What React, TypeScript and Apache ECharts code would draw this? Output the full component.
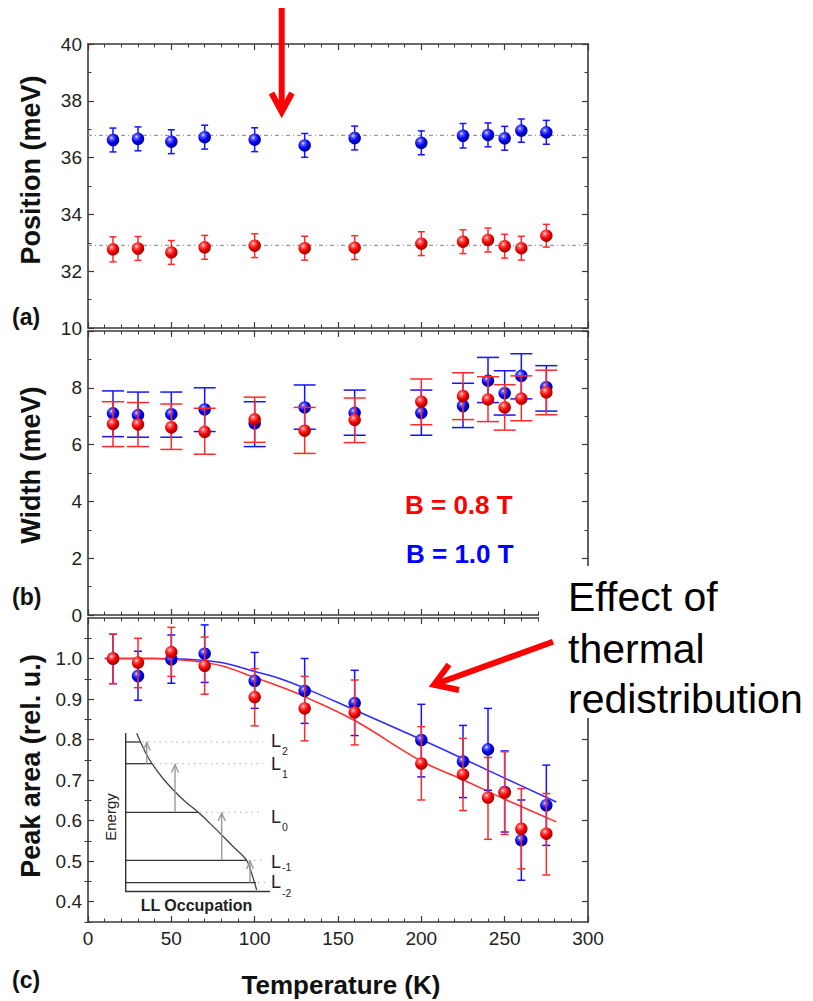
import React, { useEffect, useRef } from "react";
import * as echarts from "echarts";

// ---------------- data ----------------
const temps = [15, 30, 50, 70, 100, 130, 160, 200, 225, 240, 250, 260, 275];

// (a) Position (meV)
const posBlue = [36.62, 36.66, 36.56, 36.72, 36.63, 36.43, 36.69, 36.52, 36.77, 36.8, 36.68, 36.95, 36.89];
const posBlueErr = [0.42, 0.42, 0.42, 0.42, 0.42, 0.42, 0.42, 0.42, 0.43, 0.42, 0.42, 0.41, 0.42];
const posRed = [32.77, 32.8, 32.66, 32.84, 32.9, 32.81, 32.83, 32.97, 33.04, 33.1, 32.88, 32.81, 33.25];
const posRedErr = [0.44, 0.42, 0.42, 0.42, 0.42, 0.42, 0.42, 0.42, 0.42, 0.42, 0.42, 0.42, 0.4];
const posMeanBlue = 36.78;
const posMeanRed = 32.91;

// (b) Width (meV)
const widthBlue = [7.1, 7.04, 7.07, 7.24, 6.75, 7.31, 7.12, 7.12, 7.36, 8.25, 7.81, 8.42, 8.02];
const widthBlueLow = [6.28, 6.26, 6.26, 6.46, 5.93, 6.54, 6.33, 6.33, 6.6, 7.48, 7.04, 7.61, 7.18];
const widthBlueHigh = [7.89, 7.85, 7.85, 8.0, 7.51, 8.1, 7.92, 7.92, 8.16, 9.07, 8.6, 9.2, 8.78];
const widthRed = [6.73, 6.71, 6.61, 6.45, 6.89, 6.49, 6.87, 7.51, 7.71, 7.59, 7.31, 7.62, 7.84];
const widthRedLow = [5.93, 5.93, 5.83, 5.66, 6.08, 5.69, 6.07, 6.7, 6.88, 6.81, 6.51, 6.84, 7.05];
const widthRedHigh = [7.51, 7.48, 7.43, 7.28, 7.67, 7.31, 7.64, 8.31, 8.53, 8.39, 8.11, 8.42, 8.62];

// (c) Peak area (rel. u.)
const areaBlue = [1.0, 0.957, 0.998, 1.012, 0.945, 0.92, 0.89, 0.799, 0.746, 0.776, 0.671, 0.552, 0.638];
const areaBlueLow = [0.938, 0.897, 0.939, 0.941, 0.877, 0.84, 0.81, 0.708, 0.657, 0.675, 0.572, 0.453, 0.539];
const areaBlueHigh = [1.06, 1.018, 1.058, 1.083, 1.015, 1.0, 0.971, 0.887, 0.835, 0.877, 0.772, 0.651, 0.737];
const areaRed = [1.0, 0.99, 1.016, 0.982, 0.905, 0.877, 0.867, 0.741, 0.714, 0.657, 0.669, 0.58, 0.568];
const areaRedLow = [0.938, 0.928, 0.956, 0.912, 0.834, 0.797, 0.787, 0.651, 0.625, 0.554, 0.566, 0.481, 0.466];
const areaRedHigh = [1.06, 1.05, 1.077, 1.053, 0.975, 0.956, 0.947, 0.832, 0.803, 0.756, 0.77, 0.679, 0.667];

// fit curves
const fitT = [10, 40, 60, 80, 100, 115, 130, 160, 200, 225, 250, 281];
const fitBlue = [1.0, 1.0, 0.998, 0.99, 0.968, 0.951, 0.927, 0.873, 0.8, 0.753, 0.705, 0.646];
const fitRed = [1.0, 1.0, 0.995, 0.982, 0.953, 0.931, 0.906, 0.847, 0.747, 0.701, 0.653, 0.597];

// tick labels
const xTicks = [0, 50, 100, 150, 200, 250, 300];
const areaTicks = [0.4, 0.5, 0.6, 0.7, 0.8, 0.9, 1.0];
const areaMinorTicks = [0.35, 0.45, 0.55, 0.65, 0.75, 0.85, 0.95, 1.05];
const levelLabels = ["2", "1", "0", "-1", "-2"];

// ---------------- styles ----------------
const FONT = '"Liberation Sans", Arial, Helvetica, sans-serif';
const AX = "#3a3a3a";
const BLUE = "#1414ff";
const RED = "#ff2a2a";

const blueBall = {
  type: "radial", x: 0.38, y: 0.33, r: 0.68,
  colorStops: [
    { offset: 0, color: "#e6e8ff" },
    { offset: 0.22, color: "#5a5aff" },
    { offset: 0.6, color: "#0000e8" },
    { offset: 1, color: "#00009a" },
  ],
};
const redBall = {
  type: "radial", x: 0.38, y: 0.33, r: 0.68,
  colorStops: [
    { offset: 0, color: "#ffe6e6" },
    { offset: 0.22, color: "#ff5a5a" },
    { offset: 0.6, color: "#f00000" },
    { offset: 1, color: "#a00000" },
  ],
};

const GRIDS = [
  { left: 88, top: 44, width: 500, height: 284 },
  { left: 88, top: 331, width: 500, height: 284 },
  { left: 88, top: 618, width: 500, height: 304 },
];

function xAx(grid: number, pos: string, showLabel: boolean) {
  return {
    type: "value", gridIndex: grid, position: pos, min: 0, max: 300, interval: 50,
    axisLine: { show: true, onZero: false, lineStyle: { color: AX, width: 1.6 } },
    axisTick: { show: true, inside: true, length: 6, lineStyle: { color: AX, width: 1.2 } },
    minorTick: { show: true, splitNumber: 5, length: 3.5, lineStyle: { color: AX, width: 1 } },
    axisLabel: {
      show: showLabel, color: "#222", fontSize: 19, fontFamily: FONT, margin: 7,
      customValues: xTicks,
    },
    splitLine: { show: false }, minorSplitLine: { show: false },
  };
}

function yAx(grid: number, pos: string, min: number, max: number, interval: number, showLabel: boolean, fmt?: any, extra?: any) {
  return Object.assign({
    type: "value", gridIndex: grid, position: pos, min, max, interval,
    axisLine: { show: true, onZero: false, lineStyle: { color: AX, width: 1.6 } },
    axisTick: { show: true, inside: true, length: 6, lineStyle: { color: AX, width: 1.2 } },
    minorTick: { show: true, splitNumber: 2, length: 3.5, lineStyle: { color: AX, width: 1 } },
    axisLabel: { show: showLabel, color: "#222", fontSize: 19, fontFamily: FONT, margin: 6, formatter: fmt },
    splitLine: { show: false }, minorSplitLine: { show: false },
  }, extra || {});
}

function areaAxis(pos: string, showLabel: boolean) {
  return {
    type: "value", gridIndex: 2, position: pos, min: 0.35, max: 1.1,
    axisLine: { show: true, onZero: false, lineStyle: { color: AX, width: 1.6 } },
    axisTick: { show: true, inside: true, length: 6, customValues: areaTicks, lineStyle: { color: AX, width: 1.2 } },
    axisLabel: {
      show: showLabel, customValues: areaTicks, color: "#222", fontSize: 19, fontFamily: FONT, margin: 6,
      formatter: (v: number) => v.toFixed(1),
    },
    splitLine: { show: false },
  };
}
function areaMinorAxis(pos: string) {
  return {
    type: "value", gridIndex: 2, position: pos, min: 0.35, max: 1.1,
    axisLine: { show: false },
    axisTick: { show: true, inside: true, length: 3.5, customValues: areaMinorTicks, lineStyle: { color: AX, width: 1 } },
    axisLabel: { show: false, customValues: areaMinorTicks },
    splitLine: { show: false },
  };
}

function errSeries(xi: number, yi: number, lows: number[], highs: number[], color: string, cap: number, z: number) {
  return {
    type: "custom", xAxisIndex: xi, yAxisIndex: yi, z, silent: true,
    data: temps.map((t, i) => [t, lows[i], highs[i]]),
    encode: { x: 0, y: [1, 2] },
    renderItem: (_p: any, api: any) => {
      const t = api.value(0);
      const a = api.coord([t, api.value(1)]);
      const b = api.coord([t, api.value(2)]);
      const st = { stroke: color, lineWidth: 1.5 };
      return {
        type: "group",
        children: [
          { type: "line", shape: { x1: a[0], y1: a[1], x2: b[0], y2: b[1] }, style: st },
          { type: "line", shape: { x1: a[0] - cap, y1: a[1], x2: a[0] + cap, y2: a[1] }, style: st },
          { type: "line", shape: { x1: b[0] - cap, y1: b[1], x2: b[0] + cap, y2: b[1] }, style: st },
        ],
      };
    },
  };
}

function balls(xi: number, yi: number, vals: number[], color: any, z: number) {
  return {
    type: "scatter", xAxisIndex: xi, yAxisIndex: yi, z, silent: true,
    symbol: "circle", symbolSize: 12.5,
    itemStyle: { color, opacity: 1 },
    data: temps.map((t, i) => [t, vals[i]]),
  };
}

function txt(s: string, x: number, y: number, size: number, opts: any = {}) {
  return {
    type: "text", x, y, z: opts.z ?? 60, rotation: opts.rotation ?? 0,
    style: {
      text: s, fontSize: size, fontFamily: FONT, fontWeight: opts.bold ? "bold" : "normal",
      fill: opts.fill ?? "#111", align: opts.align ?? "left", verticalAlign: "middle",
    },
  };
}
function ln(x1: number, y1: number, x2: number, y2: number, stroke: string, w: number, dash?: number[], z = 60) {
  return { type: "line", z, shape: { x1, y1, x2, y2 }, style: { stroke, lineWidth: w, lineDash: dash } };
}
function pl(points: number[][], stroke: string, w: number, smooth = 0, z = 60) {
  return { type: "polyline", z, shape: { points, smooth }, style: { stroke, lineWidth: w, fill: null, lineJoin: "miter" } };
}
function upArrow(x: number, y0: number, y1: number) {
  return [
    ln(x, y0, x, y1, "#9a9a9a", 1.4),
    pl([[x - 3.5, y1 + 8], [x, y1], [x + 3.5, y1 + 8]], "#9a9a9a", 1.4),
  ];
}

function buildGraphic() {
  const g: any[] = [];
  // panel letters
  g.push(txt("(a)", 12, 317, 23, { bold: true }));
  g.push(txt("(b)", 12, 597, 23, { bold: true }));
  g.push(txt("(c)", 12, 980, 23, { bold: true }));
  // axis titles
  g.push(txt("Position (meV)", 31, 170, 27, { bold: true, align: "center", rotation: Math.PI / 2 }));
  g.push(txt("Width (meV)", 31, 465, 27, { bold: true, align: "center", rotation: Math.PI / 2 }));
  g.push(txt("Peak area (rel. u.)", 31, 766, 27, { bold: true, align: "center", rotation: Math.PI / 2 }));
  g.push(txt("Temperature (K)", 341, 985, 26, { bold: true, align: "center" }));
  // field labels
  g.push(txt("B = 0.8 T", 405, 505, 26, { bold: true, fill: "#ff0000" }));
  g.push(txt("B = 1.0 T", 406, 554, 26, { bold: true, fill: "#0000ff" }));
  // annotation box
  g.push({ type: "rect", z: 100, shape: { x: 539, y: 566, width: 274, height: 152 }, style: { fill: "#ffffff" } });
  g.push(txt("Effect of", 568, 597, 41, { z: 101, fill: "#000" }));
  g.push(txt("thermal", 568, 649, 41, { z: 101, fill: "#000" }));
  g.push(txt("redistribution", 568, 699, 41, { z: 101, fill: "#000" }));
  // red arrows
  g.push(ln(281.7, 8, 281.7, 108, "#ff0000", 6));
  g.push(pl([[271.5, 93], [281.7, 112], [292, 93]], "#ff0000", 6));
  g.push(ln(553, 641.7, 438, 683.3, "#ff0000", 6, undefined, 102));
  g.push(pl([[449, 664.5], [434, 684.8], [459, 690]], "#ff0000", 6, 0, 102));

  // inset
  const K = "#333";
  g.push(ln(125.7, 733, 125.7, 891.5, K, 1.4));
  g.push(ln(125, 891.5, 270, 891.5, K, 1.4));
  const levels = [
    [742, 140.5, 263],
    [763.7, 152, 263],
    [812.3, 198.3, 262],
    [860.3, 246.7, 262],
    [882.7, 256, 266],
  ];
  levels.forEach(([y, xe, xd]) => {
    g.push(ln(125.7, y, xe, y, K, 1.3));
    g.push(ln(xe + 2, y, xd, y, "#9a9a9a", 1, [1.2, 4.5]));
  });
  g.push(pl([
    [136.7, 733.3], [140.5, 742], [146, 753.5], [152, 763.7], [163, 778.5], [175, 791.7],
    [186, 802.3], [198.3, 812.3], [210, 823.4], [221.7, 835], [234, 847.5], [246.7, 860.3],
    [251.5, 873], [256.7, 890],
  ], "#444", 1.3, 0.35));
  g.push(...upArrow(146.7, 763.7, 742.5));
  g.push(...upArrow(175, 812.3, 764.5));
  g.push(...upArrow(221.7, 860.3, 813));
  g.push(...upArrow(250, 882.7, 861));
  const ly = [741, 764, 817, 862, 882];
  const sy = [751, 774, 827, 866.5, 893];
  levelLabels.forEach((s, i) => {
    g.push(txt("L", 271, ly[i], 18, { fill: "#222" }));
    g.push(txt(s, 282, sy[i], 10.5, { fill: "#222" }));
  });
  g.push(txt("Energy", 110, 817, 15, { fill: "#222", align: "center", rotation: Math.PI / 2 }));
  g.push(txt("LL Occupation", 196.5, 905, 16, { bold: true, fill: "#222", align: "center" }));
  return g;
}

function buildOption() {
  return {
    animation: false,
    backgroundColor: "#ffffff",
    grid: GRIDS,
    xAxis: [
      xAx(0, "bottom", false), xAx(0, "top", false),
      xAx(1, "bottom", false), xAx(1, "top", false),
      xAx(2, "bottom", true), xAx(2, "top", false),
    ],
    yAxis: [
      yAx(0, "left", 30, 40, 2, true, (v: number) => (v === 30 ? "10" : String(v))),
      yAx(0, "right", 30, 40, 2, false),
      yAx(1, "left", 0, 10, 2, true, (v: number) => String(v), { axisLabel: { show: true, showMaxLabel: false, color: "#222", fontSize: 19, fontFamily: FONT, margin: 6 } }),
      yAx(1, "right", 0, 10, 2, false),
      areaAxis("left", true),
      areaAxis("right", false),
      areaMinorAxis("left"),
      areaMinorAxis("right"),
    ],
    graphic: buildGraphic(),
    series: [
      // (a) reference lines
      {
        type: "line", xAxisIndex: 0, yAxisIndex: 0, z: 1, symbol: "none", silent: true,
        data: [[0, posMeanBlue], [300, posMeanBlue]],
        lineStyle: { color: "#9a9a9a", width: 1.2, type: [4, 3, 1, 3] },
      },
      {
        type: "line", xAxisIndex: 0, yAxisIndex: 0, z: 1, symbol: "none", silent: true,
        data: [[0, posMeanRed], [300, posMeanRed]],
        lineStyle: { color: "#9a9a9a", width: 1.2, type: [4, 3, 1, 3] },
      },
      errSeries(0, 0, posBlue.map((v, i) => v - posBlueErr[i]), posBlue.map((v, i) => v + posBlueErr[i]), BLUE, 3.5, 2),
      balls(0, 0, posBlue, blueBall, 3),
      errSeries(0, 0, posRed.map((v, i) => v - posRedErr[i]), posRed.map((v, i) => v + posRedErr[i]), RED, 3.5, 4),
      balls(0, 0, posRed, redBall, 5),
      // (b)
      errSeries(2, 2, widthBlueLow, widthBlueHigh, BLUE, 11, 2),
      balls(2, 2, widthBlue, blueBall, 3),
      errSeries(2, 2, widthRedLow, widthRedHigh, RED, 11, 4),
      balls(2, 2, widthRed, redBall, 5),
      // (c) fits
      {
        type: "line", xAxisIndex: 4, yAxisIndex: 4, z: 1, symbol: "none", silent: true, smooth: 0.4,
        data: fitT.map((t, i) => [t, fitBlue[i]]),
        lineStyle: { color: "#2c2cff", width: 1.6 },
      },
      {
        type: "line", xAxisIndex: 4, yAxisIndex: 4, z: 1, symbol: "none", silent: true, smooth: 0.4,
        data: fitT.map((t, i) => [t, fitRed[i]]),
        lineStyle: { color: "#ff3030", width: 1.6 },
      },
      errSeries(4, 4, areaBlueLow, areaBlueHigh, BLUE, 4, 2),
      balls(4, 4, areaBlue, blueBall, 3),
      errSeries(4, 4, areaRedLow, areaRedHigh, RED, 4, 4),
      balls(4, 4, areaRed, redBall, 5),
    ],
  };
}

export default function App() {
  const ref = useRef<HTMLDivElement>(null);
  useEffect(() => {
    document.body.style.margin = "0";
    const chart = echarts.init(ref.current as HTMLDivElement, null, { renderer: "svg" });
    chart.setOption(buildOption() as any);
    return () => chart.dispose();
  }, []);
  return <div ref={ref} style={{ width: 813, height: 1001, background: "#fff" }} />;
}
